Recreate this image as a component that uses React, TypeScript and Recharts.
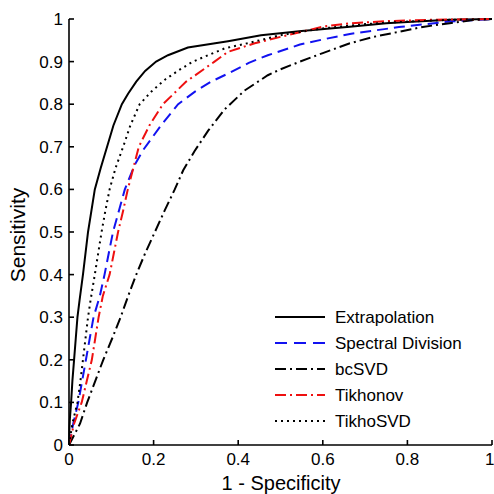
import React from 'react';
import { LineChart, Line, XAxis, YAxis, Legend } from 'recharts';

const seriesNames = ['Extrapolation', 'Spectral Division', 'bcSVD', 'Tikhonov', 'TikhoSVD'];

const extrapolationFpr = [0, 0.001, 0.002, 0.005, 0.008, 0.012, 0.016, 0.02, 0.025, 0.033, 0.045, 0.061, 0.075, 0.09, 0.105, 0.125, 0.14, 0.159, 0.18, 0.206, 0.234, 0.281, 0.376, 0.454, 0.55, 0.664, 0.75, 0.8, 0.9, 1];
const extrapolationTpr = [0, 0.04, 0.06, 0.1, 0.15, 0.2, 0.25, 0.3, 0.34, 0.4, 0.5, 0.6, 0.65, 0.7, 0.75, 0.8, 0.825, 0.853, 0.878, 0.9, 0.915, 0.933, 0.948, 0.962, 0.972, 0.982, 0.99, 0.993, 0.998, 1];

const spectralFpr = [0, 0.01, 0.022, 0.031, 0.04, 0.049, 0.058, 0.073, 0.084, 0.094, 0.104, 0.118, 0.132, 0.155, 0.175, 0.218, 0.258, 0.297, 0.336, 0.376, 0.425, 0.47, 0.546, 0.6, 0.664, 0.78, 0.9, 1];
const spectralTpr = [0, 0.05, 0.1, 0.15, 0.2, 0.25, 0.3, 0.35, 0.4, 0.45, 0.5, 0.55, 0.6, 0.657, 0.692, 0.751, 0.8, 0.829, 0.853, 0.872, 0.897, 0.915, 0.94, 0.952, 0.965, 0.981, 0.994, 1];

const bcsvdFpr = [0, 0.026, 0.043, 0.062, 0.081, 0.102, 0.122, 0.14, 0.159, 0.18, 0.203, 0.226, 0.25, 0.27, 0.297, 0.329, 0.368, 0.415, 0.47, 0.5, 0.546, 0.6, 0.664, 0.72, 0.78, 0.84, 0.9, 0.95, 1];
const bcsvdTpr = [0, 0.05, 0.1, 0.15, 0.2, 0.25, 0.3, 0.35, 0.4, 0.45, 0.5, 0.55, 0.6, 0.645, 0.69, 0.738, 0.788, 0.832, 0.868, 0.882, 0.9, 0.92, 0.943, 0.958, 0.97, 0.982, 0.99, 0.997, 1];

const tikhonovFpr = [0, 0.012, 0.03, 0.042, 0.054, 0.062, 0.07, 0.08, 0.096, 0.106, 0.116, 0.128, 0.139, 0.152, 0.165, 0.19, 0.222, 0.277, 0.344, 0.376, 0.439, 0.5, 0.55, 0.6, 0.664, 0.75, 0.85, 1];
const tikhonovTpr = [0, 0.05, 0.1, 0.15, 0.2, 0.25, 0.3, 0.35, 0.4, 0.45, 0.5, 0.55, 0.6, 0.65, 0.7, 0.75, 0.8, 0.853, 0.9, 0.923, 0.943, 0.958, 0.97, 0.982, 0.99, 0.995, 0.998, 1];

const tikhosvdFpr = [0, 0.008, 0.02, 0.027, 0.033, 0.039, 0.045, 0.051, 0.061, 0.069, 0.077, 0.086, 0.096, 0.11, 0.128, 0.145, 0.167, 0.195, 0.226, 0.26, 0.293, 0.329, 0.368, 0.43, 0.5, 0.6, 0.7, 0.8, 0.9, 1];
const tikhosvdTpr = [0, 0.05, 0.1, 0.15, 0.2, 0.25, 0.3, 0.34, 0.4, 0.45, 0.5, 0.55, 0.6, 0.65, 0.7, 0.75, 0.8, 0.83, 0.857, 0.88, 0.9, 0.915, 0.931, 0.945, 0.962, 0.978, 0.988, 0.994, 0.998, 1];

const xTicks = [0, 0.2, 0.4, 0.6, 0.8, 1];
const yTicks = [0, 0.1, 0.2, 0.3, 0.4, 0.5, 0.6, 0.7, 0.8, 0.9, 1];

const toPoints = (xs: number[], ys: number[]) => xs.map((x, i) => ({ x, y: ys[i] }));

const FONT = '"Liberation Sans", Arial, Helvetica, sans-serif';

const styles = [
  { color: '#000000', dash: undefined as string | undefined, legendDash: undefined as string | undefined },
  { color: '#1212f0', dash: '11 6', legendDash: '12 7' },
  { color: '#000000', dash: '11 4 2 4', legendDash: '11 4 2 4' },
  { color: '#ee1010', dash: '11 4 2 4', legendDash: '11 4 2 4' },
  { color: '#000000', dash: '2 4', legendDash: '2 4' },
];

const seriesData = [
  toPoints(extrapolationFpr, extrapolationTpr),
  toPoints(spectralFpr, spectralTpr),
  toPoints(bcsvdFpr, bcsvdTpr),
  toPoints(tikhonovFpr, tikhonovTpr),
  toPoints(tikhosvdFpr, tikhosvdTpr),
];

const renderLegend = () => (
  <svg width={220} height={136} style={{ display: 'block' }}>
    {seriesNames.map((name, i) => {
      const cy = 12 + i * 26;
      return (
        <g key={name}>
          <line x1={5} x2={55} y1={cy} y2={cy} stroke={styles[i].color} strokeWidth={2} strokeDasharray={styles[i].legendDash} />
          <text x={65} y={cy} dominantBaseline="central" fontSize={17} fontFamily={FONT} fill="#000">{name}</text>
        </g>
      );
    })}
  </svg>
);

const fmt = (v: number) => String(v);

export default function App() {
  return (
    <div style={{ position: 'absolute', left: 0, top: 0, background: '#fff' }}>
      <LineChart width={494} height={494} margin={{ top: 19, right: 2, bottom: 0, left: 0 }} style={{ fontFamily: FONT }}>
        <XAxis
          dataKey="x"
          type="number"
          domain={[0, 1]}
          ticks={xTicks}
          tickFormatter={fmt}
          height={49}
          tickSize={-5}
          tickMargin={13}
          stroke="#000"
          strokeWidth={1.6}
          tick={{ fill: '#000', fontSize: 17, fontFamily: FONT }}
          label={() => (
            <text x={281} y={490} textAnchor="middle" fontSize={20} fontFamily={FONT} fill="#000">1 - Specificity</text>
          )}
        />
        <XAxis
          xAxisId="top"
          orientation="top"
          type="number"
          domain={[0, 1]}
          ticks={xTicks}
          height={0}
          tick={false}
          tickSize={-5}
          stroke="#000"
          strokeWidth={1.6}
        />
        <YAxis
          type="number"
          domain={[0, 1]}
          ticks={yTicks}
          tickFormatter={fmt}
          width={69}
          tickSize={-5}
          tickMargin={11}
          stroke="#000"
          strokeWidth={1.6}
          tick={{ fill: '#000', fontSize: 17, fontFamily: FONT }}
          label={() => (
            <text x={25} y={235} transform="rotate(-90 25 235)" textAnchor="middle" fontSize={21} fontFamily={FONT} fill="#000">Sensitivity</text>
          )}
        />
        <YAxis
          yAxisId="right"
          orientation="right"
          type="number"
          domain={[0, 1]}
          ticks={yTicks}
          width={0}
          tick={false}
          tickSize={-5}
          stroke="#000"
          strokeWidth={1.6}
        />
        {seriesNames.map((name, i) => (
          <Line
            key={name}
            name={name}
            data={seriesData[i]}
            dataKey="y"
            type="linear"
            stroke={styles[i].color}
            strokeWidth={2}
            strokeDasharray={styles[i].dash}
            dot={false}
            activeDot={false}
            isAnimationActive={false}
          />
        ))}
        <Legend
          layout="horizontal"
          verticalAlign="middle"
          align="center"
          content={renderLegend}
          wrapperStyle={{ position: 'absolute', left: 270, top: 305, width: 220, height: 136 }}
        />
      </LineChart>
    </div>
  );
}
